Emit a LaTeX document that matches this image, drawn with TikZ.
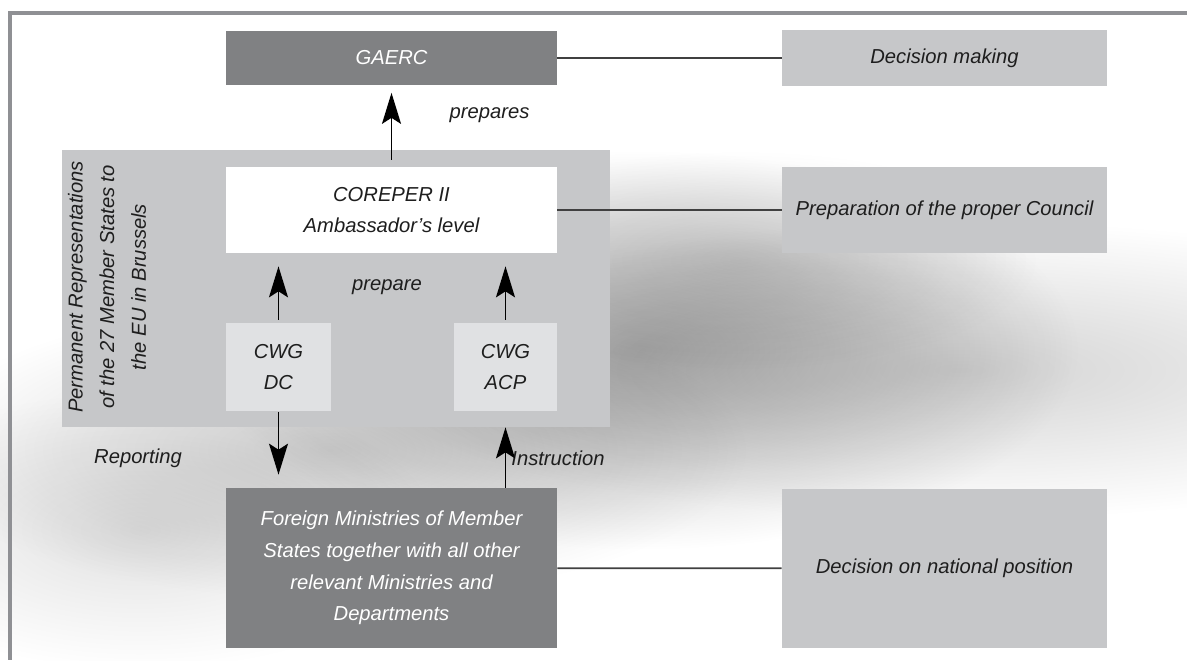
\documentclass[tikz,border=0pt]{standalone}
\usepackage{fontspec}
\setmainfont{Liberation Sans}
\usetikzlibrary{arrows.meta,positioning}
\definecolor{sotet}{HTML}{808183}
\definecolor{szurke}{HTML}{C6C7C9}
\definecolor{halvany}{HTML}{E0E1E3}
\definecolor{keret}{HTML}{8F9094}
\definecolor{betu}{HTML}{1E1E1E}
\tikzset{
  dbox/.style={fill=sotet,text=white,align=center,inner sep=0pt},
  lbox/.style={fill=szurke,text=betu,align=center,inner sep=0pt},
  wbox/.style={fill=white,text=betu,align=center,inner sep=0pt},
  cbox/.style={fill=halvany,text=betu,align=center,inner sep=0pt},
  lab/.style={text=betu,inner sep=0pt,align=center},
  arr/.style={-{Stealth[length=0.62cm,width=0.38cm,inset=0.12cm]},line width=1pt,black},
  lin/.style={line width=1pt,black!75},
  blob/.style={inner color=black!#1,outer color=white},
}

\begin{document}
\begin{tikzpicture}[x=0.02cm,y=-0.02cm,font=\itshape\fontsize{11.5}{18}\selectfont]
  \useasboundingbox (0,0) rectangle (1187,660);
  % shadow
  \begin{scope}[blend mode=multiply]
    \shade[blob=32] (640,350) ellipse (440 and 200);
    \shade[blob=18] (330,450) ellipse (420 and 150);
    \shade[blob=12] (140,530) ellipse (300 and 140);
    \shade[blob=17] (960,370) ellipse (600 and 150);
    \shade[blob=12] (740,260) ellipse (300 and 110);
  \end{scope}
  % frame
  \draw[keret,line width=0.08cm] (1187,13) -- (10,13) -- (10,660);
  % boxes
  \node[lbox,minimum width=10.96cm,minimum height=5.54cm] (perm) at (336,288.5) {};
  \node[dbox,minimum width=6.62cm,minimum height=1.1cm] (gaerc) at (391.5,58) {GAERC};
  \node[wbox,minimum width=6.62cm,minimum height=1.72cm] (coreper) at (391.5,210)
    {COREPER II\\Ambassador’s level};
  \node[cbox,minimum width=2.1cm,minimum height=1.76cm] (cwgdc) at (278.5,367) {CWG\\DC};
  \node[cbox,minimum width=2.06cm,minimum height=1.76cm] (cwgacp) at (505.5,367) {CWG\\ACP};
  \node[dbox,minimum width=6.62cm,minimum height=3.2cm] (foreign) at (391.5,568)
    {Foreign Ministries of Member\\States together with all other\\relevant Ministries and\\Departments};
  \node[lbox,minimum width=6.5cm,minimum height=1.12cm] (decmak) at (944.5,58) {Decision making};
  \node[lbox,minimum width=6.5cm,minimum height=1.72cm] (prepcou) at (944.5,210)
    {Preparation of the proper Council};
  \node[lbox,minimum width=6.5cm,minimum height=3.18cm] (decnat) at (944.5,568.5)
    {Decision on national position};
  % labels
  \node[lab,rotate=90] (permlab) at (107,287)
    {Permanent Representations\\of the 27 Member States to\\the EU in Brussels};
  \node[lab] (prepares) at (489.5,115) {prepares};
  \node[lab] (prepare) at (387,287) {prepare};
  \node[lab] (reporting) at (138,458) {Reporting};
  \node[lab] (instruction) at (558,458) {Instruction};
  % connectors
  \draw[lin] (gaerc) -- (decmak);
  \draw[lin] (coreper) -- (prepcou);
  \draw[lin] (foreign) -- (decnat);
  \draw[arr,shorten <=0.14cm,shorten >=0.14cm] (coreper.north) -- (gaerc.south);
  \draw[arr,shorten <=0.06cm,shorten >=0.26cm] (cwgdc.north) -- (cwgdc.north |- coreper.south);
  \draw[arr,shorten <=0.06cm,shorten >=0.26cm] (cwgacp.north) -- (cwgacp.north |- coreper.south);
  \draw[arr,shorten <=0.02cm,shorten >=0.26cm] (cwgdc.south) -- (cwgdc.south |- foreign.north);
  \draw[arr,shorten >=0.32cm] (foreign.north -| cwgacp.south) -- (cwgacp.south);
\end{tikzpicture}
\end{document}
